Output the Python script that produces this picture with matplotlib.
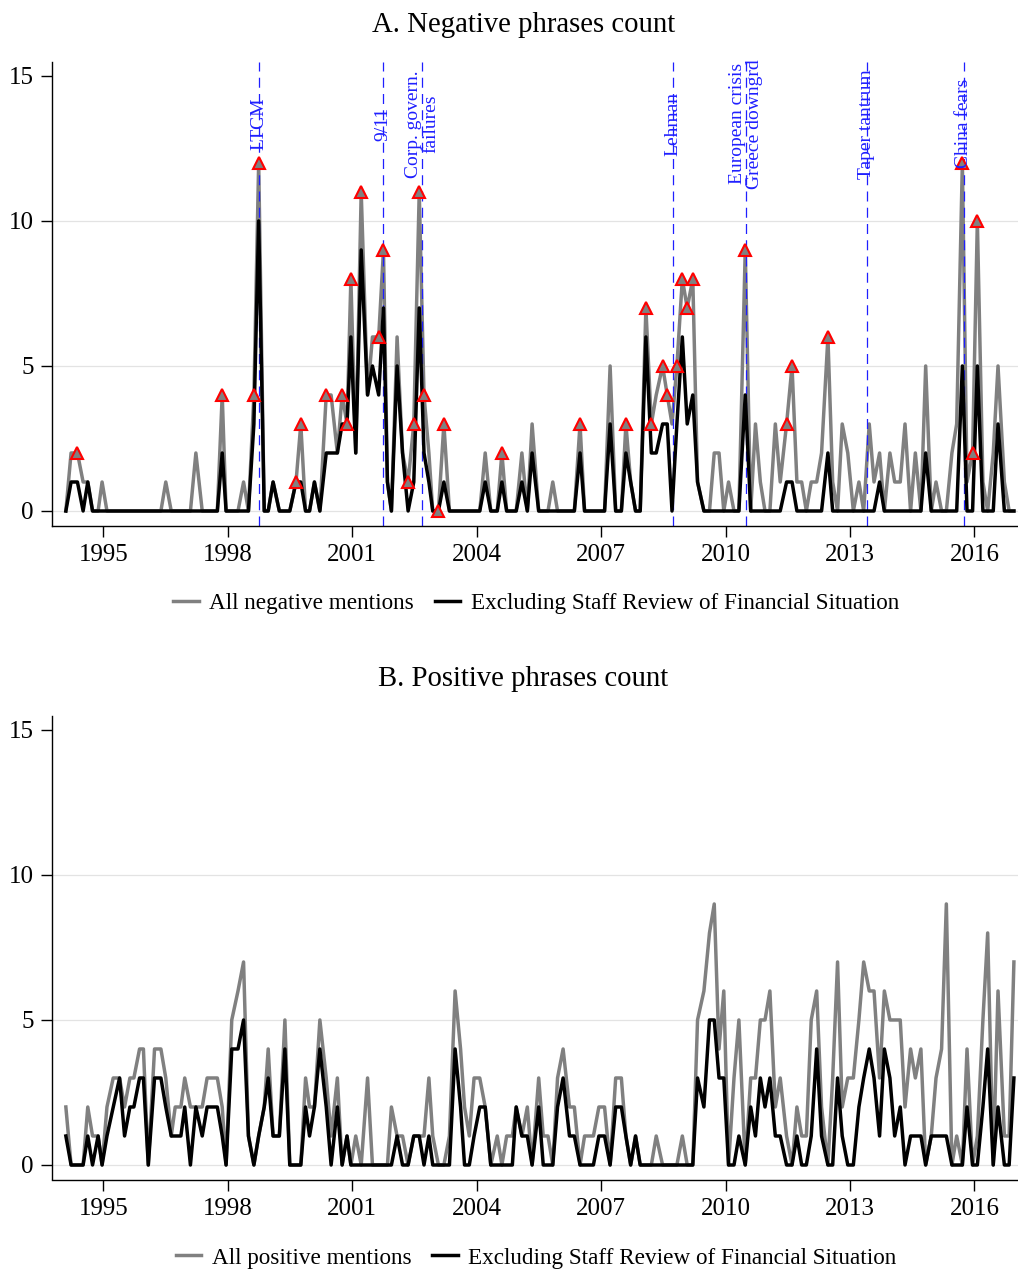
import matplotlib
matplotlib.use("Agg")
import matplotlib.pyplot as plt
import matplotlib.dates as mdates
import pandas as pd
from matplotlib.lines import Line2D

plt.rcParams['font.family'] = ['Liberation Serif', 'DejaVu Serif']

# ---------------- data ----------------
meeting_dates = [
    "1994-02-04", "1994-03-22", "1994-05-17", "1994-07-06", "1994-08-16", "1994-09-27", "1994-11-15", "1994-12-20",
    "1995-02-01", "1995-03-28", "1995-05-23", "1995-07-06", "1995-08-22", "1995-09-26", "1995-11-15", "1995-12-19",
    "1996-01-31", "1996-03-26", "1996-05-21", "1996-07-03", "1996-08-20", "1996-09-24", "1996-11-13", "1996-12-17",
    "1997-02-05", "1997-03-25", "1997-05-20", "1997-07-02", "1997-08-19", "1997-09-30", "1997-11-12", "1997-12-16",
    "1998-02-04", "1998-03-31", "1998-05-19", "1998-07-01", "1998-08-18", "1998-09-29", "1998-11-17", "1998-12-22",
    "1999-02-03", "1999-03-30", "1999-05-18", "1999-06-30", "1999-08-24", "1999-10-05", "1999-11-16", "1999-12-21",
    "2000-02-02", "2000-03-21", "2000-05-16", "2000-06-28", "2000-08-22", "2000-10-03", "2000-11-15", "2000-12-19",
    "2001-01-31", "2001-03-20", "2001-05-15", "2001-06-27", "2001-08-21", "2001-10-02", "2001-11-06", "2001-12-11",
    "2002-01-30", "2002-03-19", "2002-05-07", "2002-06-26", "2002-08-13", "2002-09-24", "2002-11-06", "2002-12-10",
    "2003-01-29", "2003-03-18", "2003-05-06", "2003-06-25", "2003-08-12", "2003-09-16", "2003-10-28", "2003-12-09",
    "2004-01-28", "2004-03-16", "2004-05-04", "2004-06-30", "2004-08-10", "2004-09-21", "2004-11-10", "2004-12-14",
    "2005-02-02", "2005-03-22", "2005-05-03", "2005-06-30", "2005-08-09", "2005-09-20", "2005-11-01", "2005-12-13",
    "2006-01-31", "2006-03-28", "2006-05-10", "2006-06-29", "2006-08-08", "2006-09-20", "2006-10-25", "2006-12-12",
    "2007-01-31", "2007-03-21", "2007-05-09", "2007-06-28", "2007-08-07", "2007-09-18", "2007-10-31", "2007-12-11",
    "2008-01-30", "2008-03-18", "2008-04-30", "2008-06-25", "2008-08-05", "2008-09-16", "2008-10-29", "2008-12-16",
    "2009-01-28", "2009-03-18", "2009-04-29", "2009-06-24", "2009-08-12", "2009-09-23", "2009-11-04", "2009-12-16",
    "2010-01-27", "2010-03-16", "2010-04-28", "2010-06-23", "2010-08-10", "2010-09-21", "2010-11-03", "2010-12-14",
    "2011-01-26", "2011-03-15", "2011-04-27", "2011-06-22", "2011-08-09", "2011-09-21", "2011-11-02", "2011-12-13",
    "2012-01-25", "2012-03-13", "2012-04-25", "2012-06-20", "2012-08-01", "2012-09-13", "2012-10-24", "2012-12-12",
    "2013-01-30", "2013-03-20", "2013-05-01", "2013-06-19", "2013-07-31", "2013-09-18", "2013-10-30", "2013-12-18",
    "2014-01-29", "2014-03-19", "2014-04-30", "2014-06-18", "2014-07-30", "2014-09-17", "2014-10-29", "2014-12-17",
    "2015-01-28", "2015-03-18", "2015-04-29", "2015-06-17", "2015-07-29", "2015-09-17", "2015-10-28", "2015-12-16",
    "2016-01-27", "2016-03-16", "2016-04-27", "2016-06-15", "2016-07-27", "2016-09-21", "2016-11-02", "2016-12-14",
]

neg_all = [
    0, 2, 2, 1, 1, 0, 0, 1,
    0, 0, 0, 0, 0, 0, 0, 0,
    0, 0, 0, 1, 0, 0, 0, 0,
    0, 2, 0, 0, 0, 0, 4, 0,
    0, 0, 1, 0, 4, 12, 0, 0,
    1, 0, 0, 0, 1, 3, 0, 0,
    1, 0, 4, 4, 2, 4, 3, 8,
    2, 11, 4, 6, 6, 9, 1, 0,
    6, 2, 1, 3, 11, 4, 2, 0,
    0, 3, 0, 0, 0, 0, 0, 0,
    0, 2, 0, 0, 2, 0, 0, 0,
    2, 0, 3, 0, 0, 0, 1, 0,
    0, 0, 0, 3, 0, 0, 0, 0,
    0, 5, 0, 0, 3, 1, 0, 0,
    7, 3, 4, 5, 4, 3, 5, 8,
    7, 8, 1, 0, 0, 2, 2, 0,
    1, 0, 0, 9, 0, 3, 1, 0,
    0, 3, 1, 3, 5, 1, 1, 0,
    1, 1, 2, 6, 1, 0, 3, 2,
    0, 1, 0, 3, 1, 2, 0, 2,
    1, 1, 3, 0, 2, 0, 5, 0,
    1, 0, 0, 2, 3, 12, 1, 2,
    10, 1, 0, 2, 5, 1, 0, 0,
]

neg_excl = [
    0, 1, 1, 0, 1, 0, 0, 0,
    0, 0, 0, 0, 0, 0, 0, 0,
    0, 0, 0, 0, 0, 0, 0, 0,
    0, 0, 0, 0, 0, 0, 2, 0,
    0, 0, 0, 0, 3, 10, 0, 0,
    1, 0, 0, 0, 1, 1, 0, 0,
    1, 0, 2, 2, 2, 3, 3, 6,
    2, 9, 4, 5, 4, 7, 1, 0,
    5, 2, 0, 1, 7, 2, 1, 0,
    0, 1, 0, 0, 0, 0, 0, 0,
    0, 1, 0, 0, 1, 0, 0, 0,
    1, 0, 2, 0, 0, 0, 0, 0,
    0, 0, 0, 2, 0, 0, 0, 0,
    0, 3, 0, 0, 2, 1, 0, 0,
    6, 2, 2, 3, 3, 0, 3, 6,
    3, 4, 1, 0, 0, 0, 0, 0,
    0, 0, 0, 4, 0, 0, 0, 0,
    0, 0, 0, 1, 1, 0, 0, 0,
    0, 0, 0, 2, 0, 0, 0, 0,
    0, 0, 0, 0, 0, 1, 0, 0,
    0, 0, 0, 0, 0, 0, 2, 0,
    0, 0, 0, 0, 0, 5, 0, 0,
    5, 0, 0, 0, 3, 0, 0, 0,
]

# meetings flagged with a red triangle (index into meeting_dates)
neg_flagged = [2, 30, 36, 37, 44, 45, 50, 53, 54, 55, 57, 60, 61, 66, 67, 68, 69,
               72, 73, 84, 99, 108, 112, 113, 115, 116, 118, 119, 120, 121, 131,
               139, 140, 147, 173, 175, 176]

pos_all = [
    2, 0, 0, 0, 2, 1, 1, 0,
    2, 3, 3, 2, 3, 3, 4, 4,
    0, 4, 4, 3, 1, 2, 2, 3,
    2, 2, 2, 3, 3, 3, 2, 0,
    5, 6, 7, 1, 0, 1, 2, 4,
    1, 1, 5, 0, 0, 0, 3, 2,
    2, 5, 3, 1, 3, 0, 1, 0,
    1, 0, 3, 0, 0, 0, 0, 2,
    1, 1, 0, 1, 1, 1, 3, 1,
    0, 0, 1, 6, 4, 2, 1, 3,
    3, 2, 0, 1, 0, 1, 1, 2,
    1, 2, 0, 3, 1, 1, 0, 3,
    4, 2, 2, 0, 1, 1, 1, 2,
    2, 0, 3, 3, 1, 0, 1, 0,
    0, 0, 1, 0, 0, 0, 0, 1,
    0, 0, 5, 6, 8, 9, 4, 6,
    0, 3, 5, 0, 3, 3, 5, 5,
    6, 2, 3, 1, 0, 2, 1, 1,
    5, 6, 2, 0, 3, 7, 2, 3,
    3, 5, 7, 6, 6, 3, 6, 5,
    5, 5, 2, 4, 3, 4, 0, 1,
    3, 4, 9, 0, 1, 0, 4, 0,
    1, 5, 8, 0, 6, 1, 1, 7,
]

pos_excl = [
    1, 0, 0, 0, 1, 0, 1, 0,
    1, 2, 3, 1, 2, 2, 3, 3,
    0, 3, 3, 2, 1, 1, 1, 2,
    0, 2, 1, 2, 2, 2, 1, 0,
    4, 4, 5, 1, 0, 1, 2, 3,
    1, 1, 4, 0, 0, 0, 2, 1,
    2, 4, 2, 0, 2, 0, 1, 0,
    0, 0, 0, 0, 0, 0, 0, 0,
    1, 0, 0, 1, 1, 0, 1, 0,
    0, 0, 0, 4, 2, 0, 0, 1,
    2, 2, 0, 0, 0, 0, 0, 2,
    1, 1, 0, 2, 0, 0, 0, 2,
    3, 1, 1, 0, 0, 0, 0, 1,
    1, 0, 2, 2, 1, 0, 1, 0,
    0, 0, 0, 0, 0, 0, 0, 0,
    0, 0, 3, 2, 5, 5, 3, 3,
    0, 0, 1, 0, 2, 1, 3, 2,
    3, 1, 1, 0, 0, 1, 0, 0,
    1, 4, 1, 0, 0, 3, 1, 0,
    0, 2, 3, 4, 3, 1, 4, 3,
    1, 2, 0, 1, 1, 1, 0, 1,
    1, 1, 1, 0, 0, 0, 2, 0,
    0, 2, 4, 0, 2, 0, 0, 3,
]

event_labels = ["LTCM", "9/11", "Corp. govern.\nfailures", "Lehman",
                "European crisis\nGreece downgrd", "Taper tantrum", "China fears"]
event_dates = ["1998-10-01", "2001-10-01", "2002-09-06", "2008-09-27",
               "2010-06-28", "2013-05-27", "2015-10-01"]

x_tick_years = [1995, 1998, 2001, 2004, 2007, 2010, 2013, 2016]
y_ticks = [0, 5, 10, 15]

titles = ["A. Negative phrases count", "B. Positive phrases count"]
legend_a = ["All negative mentions", "Excluding Staff Review of Financial Situation"]
legend_b = ["All positive mentions", "Excluding Staff Review of Financial Situation"]

# ---------------- drawing ----------------
W, H = 1018, 1269
fig = plt.figure(figsize=(W / 100, H / 100), dpi=100)

GRAY = '#808080'
BLUE = '#1f1fff'
LW = 2.5

x = pd.to_datetime(meeting_dates)
xmin = pd.Timestamp("1993-10-05")
xmax = pd.Timestamp("2017-01-19")


def style_axis(ax):
    ax.set_xlim(xmin, xmax)
    ax.set_ylim(-0.5, 15.48)
    for s in ['top', 'right']:
        ax.spines[s].set_visible(False)
    for s in ['left', 'bottom']:
        ax.spines[s].set_linewidth(1.0)
    ax.set_yticks(y_ticks)
    ax.set_xticks([pd.Timestamp(f"{y}-01-01") for y in x_tick_years])
    ax.xaxis.set_major_formatter(mdates.DateFormatter('%Y'))
    ax.tick_params(axis='both', labelsize=18, length=8, width=1.0, direction='out')
    ax.tick_params(axis='y', pad=5)
    ax.tick_params(axis='x', pad=5)
    for v in [0, 5, 10]:
        ax.axhline(v, color='#e3e3e3', lw=0.9, zorder=0)


def draw_panel(ax, all_v, excl_v, labels, legend_y):
    style_axis(ax)
    ax.plot(x, all_v, color=GRAY, lw=LW, zorder=2, solid_joinstyle='round')
    ax.plot(x, excl_v, color='black', lw=LW, zorder=3, solid_joinstyle='round')
    handles = [Line2D([], [], color=GRAY, lw=LW), Line2D([], [], color='black', lw=LW)]
    ax.legend(handles, labels, loc='center', bbox_to_anchor=(536 / W, legend_y),
              bbox_transform=fig.transFigure, ncol=2, frameon=False, fontsize=16.7,
              handlelength=1.1, handletextpad=0.45, columnspacing=0.9)


ax_a = fig.add_axes([52 / W, 1 - 525.5 / H, (W - 52) / W, (525.5 - 62) / H])
draw_panel(ax_a, neg_all, neg_excl, legend_a, 1 - 603 / H)

for lab, d in zip(event_labels, event_dates):
    dt = pd.Timestamp(d)
    ax_a.axvline(dt, color=BLUE, lw=0.9, dashes=(8, 5), zorder=2.5)
    ax_a.text(dt, 13.35, lab, rotation=90, ha='center', va='center', color=BLUE,
              fontsize=14, linespacing=1.0, multialignment='center', zorder=5)

fx = [x[i] for i in neg_flagged]
fy = [neg_all[i] for i in neg_flagged]
ax_a.plot(fx, fy, linestyle='none', marker='^', markersize=8, markerfacecolor=GRAY,
          markeredgecolor='red', markeredgewidth=1.5, zorder=4)

ax_b = fig.add_axes([52 / W, 1 - 1179.5 / H, (W - 52) / W, (1179.5 - 716) / H])
draw_panel(ax_b, pos_all, pos_excl, legend_b, 1 - 1258 / H)

fig.text(523.5 / W, 1 - 25 / H, titles[0], ha='center', va='center', fontsize=20.7)
fig.text(523.5 / W, 1 - 679 / H, titles[1], ha='center', va='center', fontsize=20.7)

fig.savefig("out.png", dpi=100)
